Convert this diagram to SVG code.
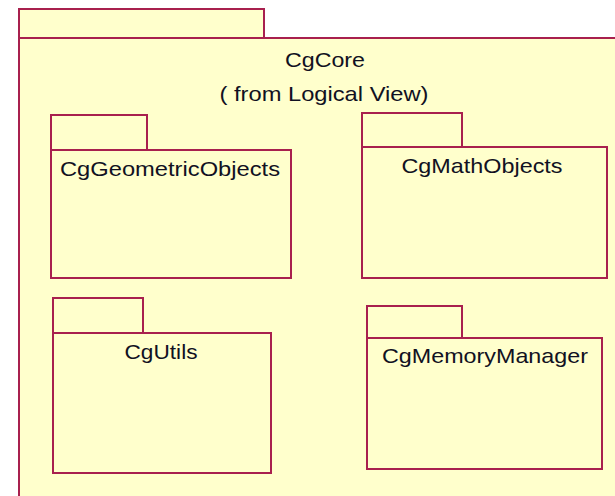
<svg xmlns="http://www.w3.org/2000/svg" width="615" height="496" viewBox="0 0 615 496">
  <style>
    .pkg { fill: #ffffcc; stroke: #a8204e; stroke-width: 2; }
    .lbl { font-family: "Liberation Sans", Arial, sans-serif; font-size: 21px; fill: #111122; text-anchor: middle; }
  </style>
  <rect x="0" y="0" width="615" height="496" fill="#ffffff"/>

  <!-- Outer package: CgCore -->
  <g id="CgCore">
    <rect class="pkg" x="19" y="9" width="245" height="29"/>
    <rect class="pkg" x="19" y="38" width="620" height="480"/>
    <text class="lbl" x="325" y="67" textLength="80" lengthAdjust="spacingAndGlyphs">CgCore</text>
    <text class="lbl" x="324" y="101" textLength="209" lengthAdjust="spacingAndGlyphs">( from Logical View)</text>
  </g>

  <g id="CgGeometricObjects">
    <rect class="pkg" x="51" y="115" width="96" height="35"/>
    <rect class="pkg" x="51" y="150" width="240" height="128"/>
    <text class="lbl" x="170" y="176" textLength="220" lengthAdjust="spacingAndGlyphs">CgGeometricObjects</text>
  </g>

  <g id="CgMathObjects">
    <rect class="pkg" x="362" y="113" width="100" height="34"/>
    <rect class="pkg" x="362" y="147" width="245" height="131"/>
    <text class="lbl" x="482" y="173" textLength="161" lengthAdjust="spacingAndGlyphs">CgMathObjects</text>
  </g>

  <g id="CgUtils">
    <rect class="pkg" x="53" y="298" width="90" height="35"/>
    <rect class="pkg" x="53" y="333" width="218" height="140"/>
    <text class="lbl" x="161" y="359" textLength="73" lengthAdjust="spacingAndGlyphs">CgUtils</text>
  </g>

  <g id="CgMemoryManager">
    <rect class="pkg" x="367" y="306" width="95" height="32"/>
    <rect class="pkg" x="367" y="338" width="235" height="131"/>
    <text class="lbl" x="485" y="363" textLength="206" lengthAdjust="spacingAndGlyphs">CgMemoryManager</text>
  </g>

  <g id="connectors"></g>
</svg>
